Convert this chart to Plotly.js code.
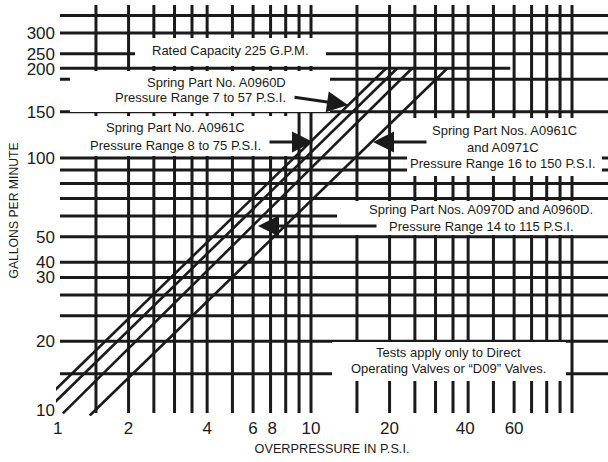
<!DOCTYPE html>
<html><head><meta charset="utf-8">
<script src="https://cdn.plot.ly/plotly-3.0.1.min.js"></script>
<style>html,body{margin:0;padding:0;background:#fff}</style>
</head><body><div id="chart" style="width:608px;height:462px"></div>
<script>
// ---- data ----
const xGrid = [1.5,2,2.5,3,3.5,4,5,6,7,8,9,10,15,20,25,30,35,40,50,60,70,80,90,100];
const yGrid = [15,20,25,30,35,40,50,60,70,80,90,100,150,200,250,300,350];
const ratedCapacityGPM = 220;
const ratedLineEndPSI = 58;
const xTickVals = [1.07,2,4,6,7.1,10,20,39,60];
const xTickText = ['1','2','4','6','8','10','20','40','60'];
const yTickVals = [10.9,20,35,40,50,100,150,218,250,300];
const yTickText = ['10','20','30','40','50','100','150','200','250','300'];
const springSeries = ['A0960D','A0961C','A0970D/A0960D','A0961C/A0971C'];
const startPSI = [1.045,1.045,1.12,1.42];
const startGPM = [13.0,11.7,10.6,10.4];
const endPSI   = [19.4,21.4,24.4,33.3];
const endGPM   = [220,220,220,220];

// ---- geometry ----
const W=608,H=462, L=56, R=0, T=5, B=46;
const PW=W-L-R, PH=H-T-B;
const xr=[0.02299,2.1379], yr=[1.01527,2.58397];
const xMax=Math.pow(10,xr[1]), yMax=Math.pow(10,yr[1]);
const hLineStart=1.092, vLineBottom=10.63;
const FONT="'Liberation Sans',Arial,Helvetica,sans-serif";
const INK='#1a1a1a';

function px2fx(p){return (p-L)/PW;}
function px2fy(p){return (T+PH-p)/PH;}

const hx=[],hy=[];
yGrid.forEach(v=>{hx.push(hLineStart,xMax,null);hy.push(v,v,null);});
const vx=[],vy=[];
xGrid.forEach(v=>{vx.push(v,v,null);vy.push(vLineBottom,yMax,null);});

const traces=[
 {x:hx,y:hy,mode:'lines',line:{color:INK,width:3},hoverinfo:'skip',showlegend:false},
 {x:vx,y:vy,mode:'lines',line:{color:INK,width:3},hoverinfo:'skip',showlegend:false},
 {x:[hLineStart,ratedLineEndPSI],y:[ratedCapacityGPM,ratedCapacityGPM],mode:'lines',line:{color:INK,width:3},hoverinfo:'skip',showlegend:false}
];
springSeries.forEach((n,i)=>{
 traces.push({x:[startPSI[i],endPSI[i]],y:[startGPM[i],endGPM[i]],mode:'lines',name:n,line:{color:INK,width:2.6},showlegend:false});
});

const ann=[];
function box(x0,x1,y0,y1){
 ann.push({xref:'paper',yref:'paper',x:px2fx((x0+x1)/2),y:px2fy((y0+y1)/2),xanchor:'center',yanchor:'middle',
  text:' ',showarrow:false,bgcolor:'#ffffff',borderwidth:0,borderpad:0,width:x1-x0,height:y1-y0});
}
function txt(s,cx,cy){
 ann.push({xref:'paper',yref:'paper',x:px2fx(cx),y:px2fy(cy),xanchor:'center',yanchor:'middle',
  text:s,showarrow:false,font:{family:FONT,size:13,color:INK}});
}
function arrow(tx,ty,sx,sy){
 ann.push({xref:'paper',yref:'paper',x:px2fx(tx),y:px2fy(ty),ax:sx-tx,ay:sy-ty,text:'',showarrow:true,
  arrowhead:2,arrowsize:1.4,arrowwidth:3,arrowcolor:INK,standoff:0,startstandoff:0});
}
box(135,326,38,66);
box(70,330,71,112);
box(57,293,116,156);
box(407,602,118,176);
box(337,608,201,235);
box(332,566,342,381);

txt('Rated Capacity 225 G.P.M.',230,51);
txt('Spring Part No. A0960D',216,82);
txt('Pressure Range 7 to 57 P.S.I.',200,98);
txt('Spring Part No. A0961C',175,128);
txt('Pressure Range 8 to 75 P.S.I.',175,145);
txt('Spring Part Nos. A0961C',504,130);
txt('and A0971C',503,147);
txt('Pressure Range 16 to 150 P.S.I.',503,163);
txt('Spring Part Nos. A0970D and A0960D.',481,210);
txt('Pressure Range 14 to 115 P.S.I.',481,226);
txt('Tests apply only to Direct',448,352);
txt('Operating Valves or \u201CD09\u201D Valves.',448,368);

arrow(348,105,293,97);
arrow(313,142,268,142);
arrow(373,142,428,142);
arrow(258,226,378,226);

const layout={
 width:W,height:H,margin:{l:L,r:R,t:T,b:B},
 paper_bgcolor:'#fff',plot_bgcolor:'#fff',
 font:{family:FONT,color:INK},
 xaxis:{type:'log',range:xr,showgrid:false,zeroline:false,showline:false,ticks:'',
  tickmode:'array',tickvals:xTickVals,ticktext:xTickText,tickfont:{size:17,family:FONT,color:INK},
  title:{text:'OVERPRESSURE IN P.S.I.',font:{size:12.7,family:FONT,color:INK},standoff:7}},
 yaxis:{type:'log',range:yr,showgrid:false,zeroline:false,showline:false,ticks:'',
  tickmode:'array',tickvals:yTickVals,ticktext:yTickText,tickfont:{size:17,family:FONT,color:INK},
  title:{text:'GALLONS PER MINUTE',font:{size:12.2,family:FONT,color:INK},standoff:5}},
 annotations:ann,showlegend:false
};
Plotly.newPlot('chart',traces,layout,{staticPlot:true,displayModeBar:false});
</script></body></html>
